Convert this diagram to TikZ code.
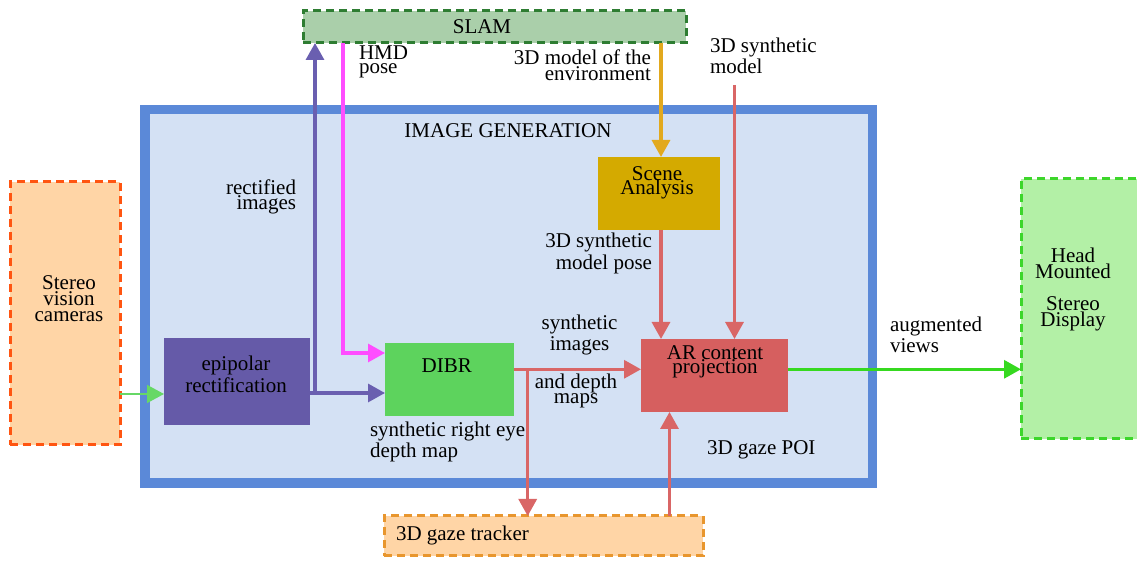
\documentclass[tikz,border=0pt]{standalone}
\usepackage{fontspec}
\setmainfont{Liberation Serif}
\usetikzlibrary{arrows.meta,fit}
\definecolor{slamfill}{HTML}{AACFAA}
\definecolor{slamdraw}{HTML}{2E7D32}
\definecolor{peach}{HTML}{FFD5A6}
\definecolor{camdraw}{HTML}{FF5511}
\definecolor{gazedraw}{HTML}{E8962E}
\definecolor{genfill}{HTML}{D4E1F4}
\definecolor{gendraw}{HTML}{5B89D8}
\definecolor{hmdfill}{HTML}{B3F0A6}
\definecolor{hmddraw}{HTML}{3DD62B}
\definecolor{epifill}{HTML}{655AA8}
\definecolor{dibrfill}{HTML}{5DD35D}
\definecolor{scenefill}{HTML}{D4AA00}
\definecolor{arfill}{HTML}{D65F5F}
\definecolor{purpleline}{HTML}{6A5FB0}
\definecolor{magline}{HTML}{FF4DFF}
\definecolor{goldline}{HTML}{E2A91E}
\definecolor{redline}{HTML}{D96666}
\definecolor{greenline}{HTML}{36D920}
\definecolor{thingreen}{HTML}{66D866}
\tikzset{
  plainbox/.style={inner sep=0pt, outer sep=0pt},
  dashbox/.style={plainbox, line width=1.5pt, dash pattern=on 4pt off 2.5pt},
  conn/.style={line width=1.6pt, -{Triangle[length=8.5pt,width=9pt]}},
  txt/.style={inner sep=0pt, outer sep=0pt, font={\fontsize{10.5}{#1}\selectfont\lineskiplimit=-30pt}},
  txt/.default=10.75
}
\begin{document}
\begin{tikzpicture}[x=0.5pt,y=-0.5pt]
\useasboundingbox (0,0) rectangle (1137,565);
% big box
\node[plainbox, draw=gendraw, fill=genfill, line width=4.75pt, fit={(145,109.5) (872.5,483)}] (gen) {};
\node[txt, anchor=base] (genlbl) at (508,138) {IMAGE GENERATION};
% outer boxes
\node[dashbox, draw=slamdraw, fill=slamfill, fit={(303,11) (686,43)}] (slam) {};
\node[txt, anchor=base] (slamlbl) at (482,34) {SLAM};
\node[dashbox, draw=camdraw, fill=peach, fit={(10,182) (120,445)}] (cam) {};
\node[txt=8, anchor=base, align=center] (camlbl) at (69,321.7) {Stereo\\vision\\cameras};
\node[dashbox, draw=hmddraw, fill=hmdfill, fit={(1021,179) (1150,439)}] (hmd) {};
\node[txt=8, anchor=base, align=center] (hmdlbl) at (1073,326.7) {Head\\Mounted\\[8pt]Stereo\\Display};
\node[dashbox, draw=gazedraw, fill=peach, fit={(384,516) (703,556)}] (gaze) {};
\node[txt, anchor=base west] (gazelbl) at (396,541) {3D gaze tracker};
% inner boxes
\node[plainbox, fill=epifill, fit={(164,338) (310,425)}] (epi) {};
\node[txt=11.3, anchor=base, align=center] (epilbl) at (236,392.7) {epipolar\\rectification};
\node[plainbox, fill=dibrfill, fit={(385,343) (514,416.5)}] (dibr) {};
\node[txt, anchor=base] (dibrlbl) at (446.7,373) {DIBR};
\node[plainbox, fill=scenefill, fit={(598,157) (720,230)}] (scene) {};
\node[txt=7, anchor=base, align=center] (scenelbl) at (657,194.3) {Scene\\Analysis};
\node[plainbox, fill=arfill, fit={(641,339) (788,412)}] (ar) {};
\node[txt=7, anchor=base, align=center] (arlbl) at (715,373.3) {AR content\\projection};
% connectors
\draw[conn, line width=0.8pt, thingreen] (cam.east |- 0,394) -- (epi.west |- 0,394);
\draw[conn, purpleline] (epi.east |- 0,393) -- (dibr.west |- 0,393);
\coordinate (psplit) at (315,393);
\draw[conn, purpleline] (psplit) -- (psplit |- slam.south);
\coordinate (mtop) at (343,43);
\coordinate (mbend) at (343,353);
\draw[conn, magline] (mtop) -- (mbend) -- (mbend -| dibr.west);
\coordinate (gtop) at (661,43);
\draw[conn, goldline] (gtop) -- (gtop |- scene.north);
\coordinate (stop) at (661,230);
\draw[conn, redline] (stop) -- (stop |- ar.north);
\coordinate (modeltop) at (734.5,85);
\draw[conn, redline] (modeltop) -- (modeltop |- ar.north);
\coordinate (dout) at (514,369.3);
\draw[conn, redline] (dout) -- (dout -| ar.west);
\coordinate (dsplit) at (527.7,369.3);
\draw[conn, redline] (dsplit) -- (dsplit |- gaze.north);
\coordinate (gazeout) at (669.5,516);
\draw[conn, redline] (gazeout) -- (gazeout |- ar.south);
\coordinate (arout) at (788,369.3);
\draw[conn, greenline] (arout) -- (arout -| hmd.west);
% labels
\node[txt=7.5, anchor=base east, align=right] (rectlbl) at (296,210) {rectified\\images};
\node[txt=7, anchor=base west, align=left] (hmdpose) at (359,74) {HMD\\pose};
\node[txt=8, anchor=base east, align=right] (envlbl) at (651,81) {3D model of the\\environment};
\node[txt=10.6, anchor=base west, align=left] (synmodel) at (710,74) {3D synthetic\\model};
\node[txt=11, anchor=base east, align=right] (poselbl) at (652,270) {3D synthetic\\model pose};
\node[txt=10.7, anchor=base, align=center] (synimg) at (579.5,350.7) {synthetic\\images};
\node[txt=7.5, anchor=base, align=center] (depthmaps) at (576,403.3) {and depth\\maps};
\node[txt, anchor=base west] (poilbl) at (707,455) {3D gaze POI};
\node[txt=10.65, anchor=base west, align=left] (rightlbl) at (370,458) {synthetic right eye\\depth map};
\node[txt=10.5, anchor=base west, align=left] (auglbl) at (890,353) {augmented\\views};
\end{tikzpicture}
\end{document}
